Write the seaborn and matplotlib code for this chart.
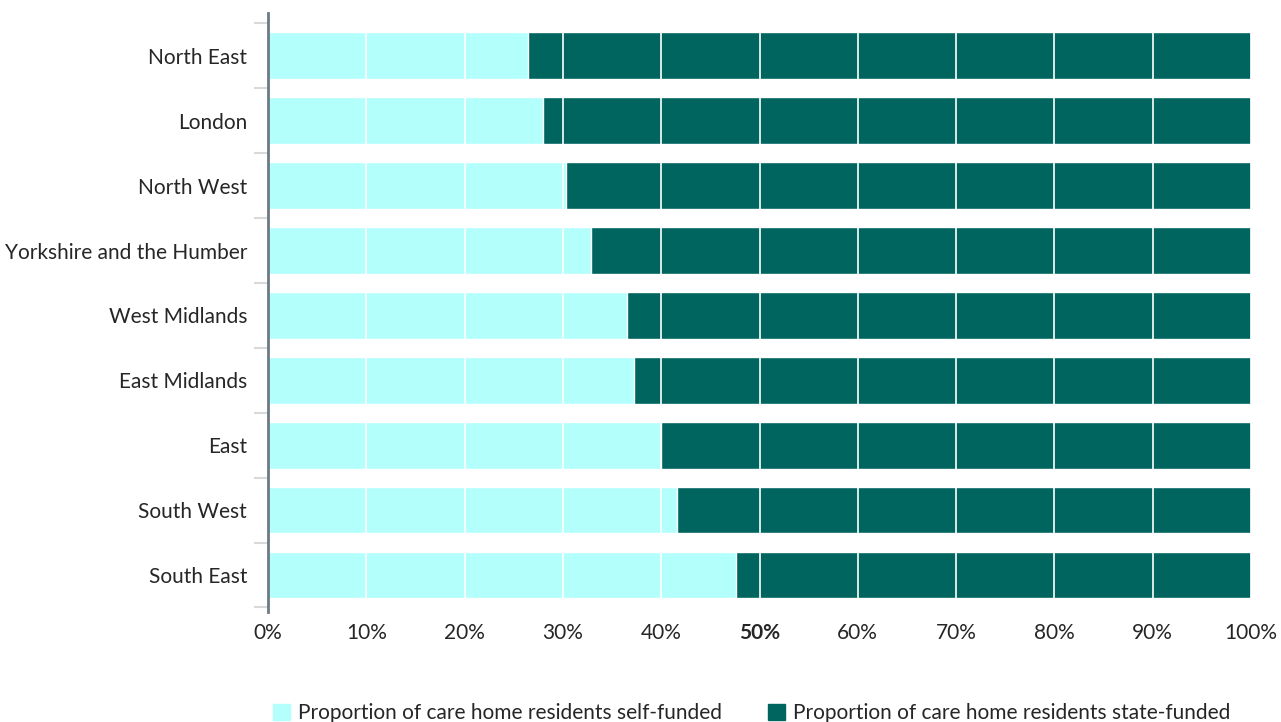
import numpy as np
import pandas as pd
import matplotlib
matplotlib.use("Agg")
import matplotlib.pyplot as plt
import seaborn as sns
from matplotlib.patches import Patch

regions = ["North East", "London", "North West", "Yorkshire and the Humber",
           "West Midlands", "East Midlands", "East", "South West", "South East"]
self_funded = [26.4, 28.0, 30.3, 32.9, 36.5, 37.2, 40.0, 41.6, 47.6]
state_funded = [100 - v for v in self_funded]
ticks = [0, 10, 20, 30, 40, 50, 60, 70, 80, 90, 100]

light = "#b3fffc"
dark = "#00645f"

df = pd.DataFrame({"region": regions, "self": self_funded, "state": state_funded})
df["total"] = df["self"] + df["state"]

sns.set_style("white")
plt.rcParams["font.family"] = ["Lato", "DejaVu Sans"]

fig = plt.figure(figsize=(12.81, 7.22), dpi=100)
ax = fig.add_axes([268 / 1281, 1 - 612 / 722, (1251 - 268) / 1281, (612 - 13) / 722])

# dark full bar first, then the self-funded part over it
sns.barplot(data=df, x="total", y="region", color=dark, width=0.72,
            edgecolor="white", linewidth=1, ax=ax, saturation=1)
sns.barplot(data=df, x="self", y="region", color=light, width=0.72,
            edgecolor="white", linewidth=1, ax=ax, saturation=1)

ax.set_xlim(0, 100)
ax.set_ylim(8.57, -0.66)
ax.set_xticks(ticks)
ax.set_xticklabels([f"{t}%" for t in ticks], fontsize=15)
for lab in ax.get_xticklabels():
    if lab.get_text() == "50%":
        lab.set_fontweight("bold")
ax.tick_params(axis="x", length=0, pad=8)
ax.tick_params(axis="y", which="major", left=True, length=0, pad=15, labelsize=15)
ax.set_yticks(np.arange(-0.5, 9, 1), minor=True)
ax.tick_params(axis="y", which="minor", left=True, length=10, color="#d9d9d9", width=1.5)

ax.grid(axis="x", color="white", linewidth=1.2)
ax.grid(axis="y", visible=False)
ax.set_axisbelow(False)
ax.set_xlabel("")
ax.set_ylabel("")
for s in ["top", "right", "bottom"]:
    ax.spines[s].set_visible(False)
ax.spines["left"].set_color("#6b7a85")
ax.spines["left"].set_linewidth(2)
ax.spines["left"].set_zorder(10)

handles = [Patch(color=light, label="Proportion of care home residents self-funded"),
           Patch(color=dark, label="Proportion of care home residents state-funded")]
fig.legend(handles=handles, loc="lower center", bbox_to_anchor=(0.587, -0.028), ncol=2,
           frameon=False, fontsize=15, handlelength=0.8, handleheight=0.8,
           handletextpad=0.4, columnspacing=2.2)

fig.savefig("out.png", dpi=100)
